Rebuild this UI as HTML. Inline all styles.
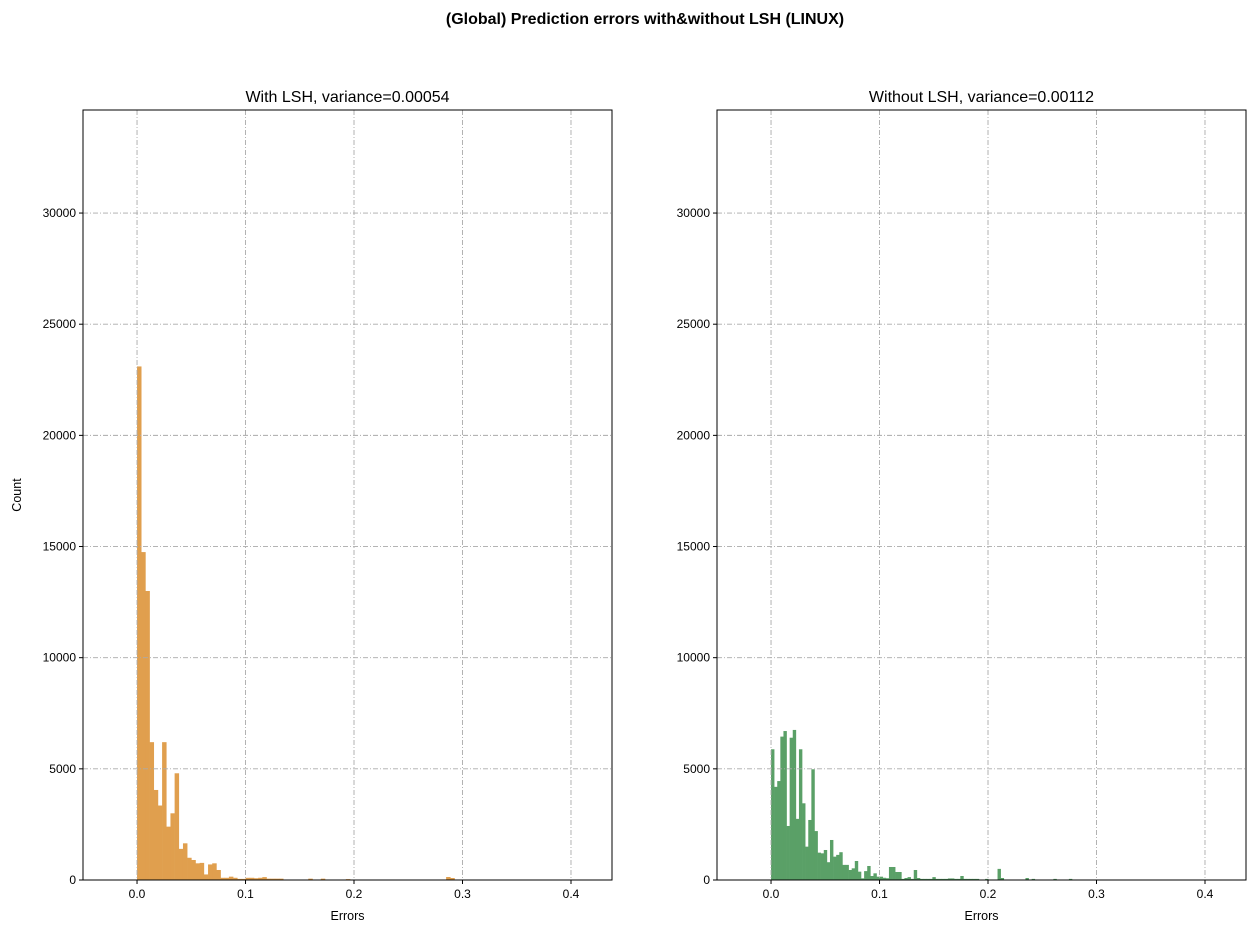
<!DOCTYPE html>
<html><head><meta charset="utf-8"><style>
body{margin:0;background:#fff;}
svg text{font-family:"Liberation Sans","DejaVu Sans",sans-serif;}
</style></head><body>
<svg id="fig" width="1255" height="933" xmlns="http://www.w3.org/2000/svg">
<rect width="1255" height="933" fill="#fff"/>
<text x="645" y="24" text-anchor="middle" font-size="16" font-weight="bold">(Global) Prediction errors with&amp;without LSH (LINUX)</text>
</svg>
<script>
const leftBinWidth = 0.00385;
const leftCounts = [23100,14750,13000,6200,4050,3350,6200,2400,3000,4800,1400,1650,1000,900,750,770,250,700,750,450,100,100,150,100,50,50,100,
 100,80,100,130,60,60,60,60,0,0,0,0,0,0,60,0,0,60,0,0,0,0,0,40,0,0,0,0,0,0,0,0,0,0,0,0,0,0,0,0,0,0,0,0,0,0,0,135,90];
const rightBinWidth = 0.00286;
const rightCounts = [5880,4190,4450,6450,6700,2430,6400,6750,2750,5880,3450,1500,2700,4980,2200,1230,1200,1350,800,1800,1050,1130,1250,680,680,450,525,855,375,75,400,630,180,300,150,
 150,100,80,585,585,360,360,50,90,130,50,450,90,50,50,50,50,130,50,50,50,50,70,70,50,50,180,50,50,50,50,50,0,0,50,0,0,0,500,90,0,0,0,0,0,0,0,90,0,50,0,0,0,0,0,0,50,0,0,0,0,50];
const xTicks = [0.0,0.1,0.2,0.3,0.4];
const xTickLabels = ["0.0","0.1","0.2","0.3","0.4"];
const yTicks = [0,5000,10000,15000,20000,25000,30000];
const yTickLabels = ["0","5000","10000","15000","20000","25000","30000"];
const panels = [
 {name:'with-lsh', left:83, title:'With LSH, variance=0.00054', counts:leftCounts, bw:leftBinWidth, color:'#e09f4e', ylabel:true},
 {name:'without-lsh', left:717, title:'Without LSH, variance=0.00112', counts:rightCounts, bw:rightBinWidth, color:'#5aa067', ylabel:false}
];
const NS='http://www.w3.org/2000/svg';
const svg=document.getElementById('fig');
function mk(tag,attrs,parent){const e=document.createElementNS(NS,tag);for(const k in attrs)e.setAttribute(k,attrs[k]);(parent||svg).appendChild(e);return e;}
const axTop=110,axBottom=880,W=529;
const xMin=-0.0498,xMax=0.4378,yMax=34635;
panels.forEach(p=>{
 const g=mk('g',{});
 
 
 const X=v=>p.left+(v-xMin)/(xMax-xMin)*W;
 const Y=v=>axBottom-v/yMax*(axBottom-axTop);
 p.counts.forEach((c,i)=>{
  if(c<=0)return;
  const x0=X(i*p.bw),x1=X((i+1)*p.bw);
  const r=mk('rect',{x:x0,y:Y(c),width:x1-x0+0.3,height:axBottom-Y(c),fill:p.color},g);
  
  
 });
 xTicks.forEach((t,i)=>{
  const x=X(t);
  const l=mk('line',{x1:x,x2:x,y1:axTop,y2:axBottom,stroke:'#aaa','stroke-width':0.9,'stroke-dasharray':'5,2,1,2'},g);
  
  
  mk('line',{x1:x,x2:x,y1:axBottom,y2:axBottom+4,stroke:'#000','stroke-width':1},g);
  const tx=mk('text',{x:x,y:axBottom+18,'text-anchor':'middle','font-size':12},g);
  tx.textContent=xTickLabels[i];
  
  
 });
 yTicks.forEach((t,i)=>{
  const y=Y(t);
  if(t>0){const l=mk('line',{x1:p.left,x2:p.left+W,y1:y,y2:y,stroke:'#aaa','stroke-width':0.9,'stroke-dasharray':'5,2,1,2'},g);
  
  }
  mk('line',{x1:p.left-4,x2:p.left,y1:y,y2:y,stroke:'#000','stroke-width':1},g);
  const tx=mk('text',{x:p.left-7,y:y+4,'text-anchor':'end','font-size':12},g);
  tx.textContent=yTickLabels[i];
  
  
 });
 const fr=mk('rect',{x:p.left,y:axTop,width:W,height:axBottom-axTop,fill:'none',stroke:'#000','stroke-width':1},g);
 
 
 const tt=mk('text',{x:p.left+W/2,y:102,'text-anchor':'middle','font-size':16},g);
 tt.textContent=p.title;
 
 
 const xl=mk('text',{x:p.left+W/2,y:920,'text-anchor':'middle','font-size':12.5},g);
 xl.textContent='Errors';
 
 
 if(p.ylabel){
  const yl=mk('text',{x:21,y:495,'text-anchor':'middle','font-size':12.5,transform:'rotate(-90 21 495)'},g);
  yl.textContent='Count';
  
  
 }
});
</script>
</body></html>
